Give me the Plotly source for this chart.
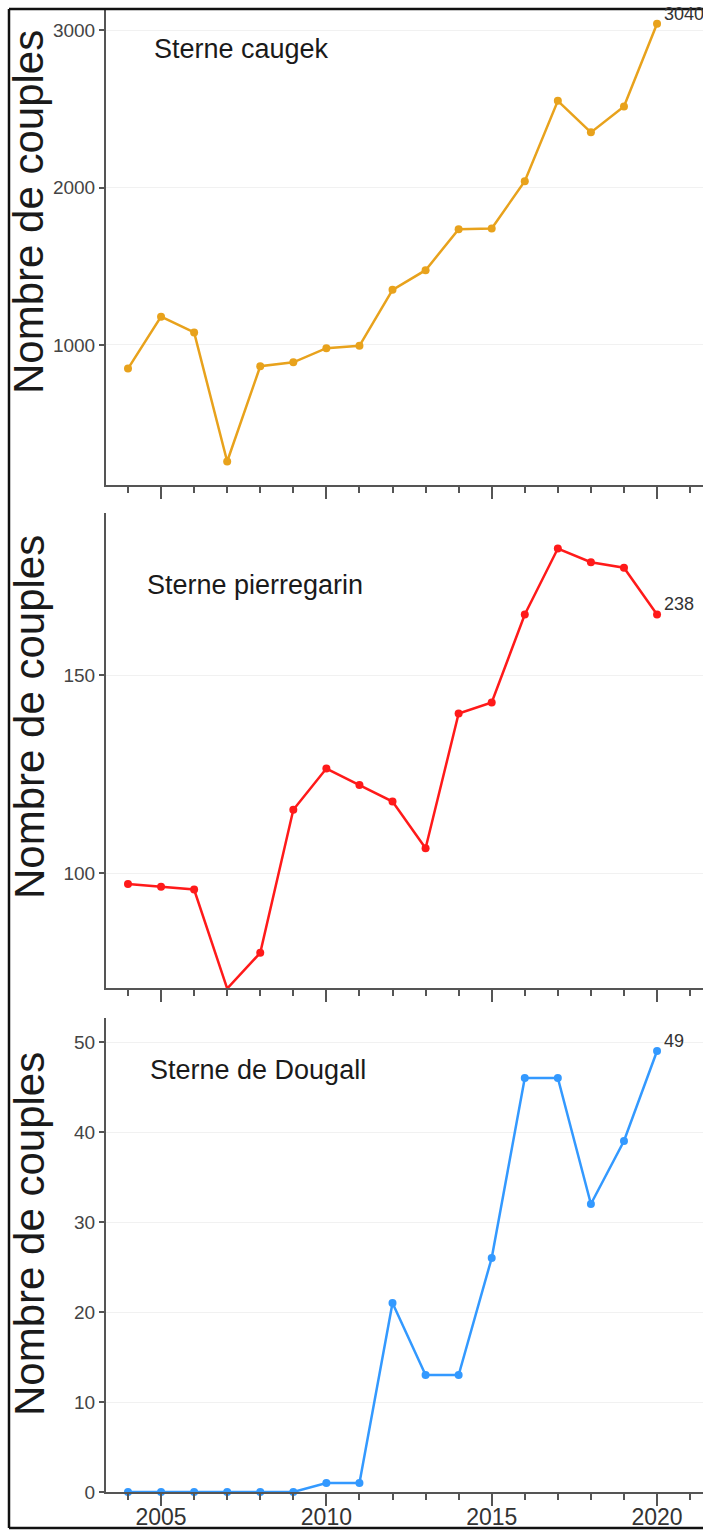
import plotly.graph_objects as go

# Breeding pairs counted per year for three tern species
YEARS = [2004, 2005, 2006, 2007, 2008, 2009, 2010, 2011, 2012,
         2013, 2014, 2015, 2016, 2017, 2018, 2019, 2020]
CAUGEK = [850, 1180, 1080, 260, 865, 890, 980, 995, 1350,
          1475, 1735, 1740, 2040, 2550, 2350, 2515, 3040]
PIERREGARIN = [140, 139, 138, 102, 115, 167, 182, 176, 170,
               153, 202, 206, 238, 262, 257, 255, 238]
DOUGALL = [0, 0, 0, 0, 0, 0, 1, 1, 21,
           13, 13, 26, 46, 46, 32, 39, 49]

SPECIES = ["Sterne caugek", "Sterne pierregarin", "Sterne de Dougall"]
Y_TITLE = "Nombre de couples"
X_TICK_YEARS = [2005, 2010, 2015, 2020]
PIERRE_TICK_TEXT = ["100", "150"]

W, H = 703, 1530
L_MARGIN = 106
FONT = "Liberation Sans, Arial, sans-serif"
COLORS = ["#E8A21C", "#FF1A1A", "#3399FF"]
AXIS_COLOR = "#555555"
GRID_COLOR = "#F1F1F1"


def py(px):
    """Pixel row -> paper y fraction."""
    return 1 - px / H


def pxx(px):
    """Pixel column -> paper x fraction."""
    return (px - L_MARGIN) / (W - L_MARGIN)


# panel vertical extents (top, bottom) in pixels
PANELS = [(10, 485), (513, 988), (1018, 1492)]
X_RANGE = [2003.335, 2021.39]

fig = go.Figure()
series = [CAUGEK, PIERREGARIN, DOUGALL]
for i, vals in enumerate(series):
    n = "" if i == 0 else str(i + 1)
    fig.add_trace(go.Scatter(
        x=YEARS, y=vals, mode="lines+markers",
        line=dict(color=COLORS[i], width=2.5),
        marker=dict(color=COLORS[i], size=8),
        xaxis="x" + n, yaxis="y" + n, cliponaxis=False,
        showlegend=False,
    ))

layout = dict(
    width=W, height=H,
    margin=dict(l=L_MARGIN, r=0, t=0, b=0, pad=0, autoexpand=False),
    paper_bgcolor="white", plot_bgcolor="white",
    font=dict(family=FONT, color="#333333"),
    showlegend=False,
)

y_specs = [
    dict(range=[111, 3127], tickvals=[1000, 2000, 3000]),
    dict(range=[102.2, 274.9], tickvals=[144, 216], ticktext=PIERRE_TICK_TEXT),
    dict(range=[0, 52.67], tickvals=[0, 10, 20, 30, 40, 50]),
]

for i, (top, bot) in enumerate(PANELS):
    n = "" if i == 0 else str(i + 1)
    layout["xaxis" + n] = dict(
        range=X_RANGE, anchor="y" + n, domain=[0, 1],
        showline=True, linecolor=AXIS_COLOR, linewidth=2,
        showgrid=False, zeroline=False, automargin=False,
        tickmode="array", tickvals=X_TICK_YEARS,
        ticks="outside", ticklen=12, tickwidth=2, tickcolor=AXIS_COLOR,
        minor=dict(dtick=1, tick0=2004, ticks="outside", ticklen=6,
                   tickwidth=2, tickcolor=AXIS_COLOR),
        showticklabels=(i == 2), ticklabelstandoff=-9,
        tickfont=dict(size=23, color="#333333", family=FONT),
    )
    ys = dict(
        anchor="x" + n, domain=[py(bot), py(top)],
        showline=True, linecolor=AXIS_COLOR, linewidth=2,
        showgrid=True, gridcolor=GRID_COLOR, gridwidth=1, zeroline=False,
        automargin=False,
        ticks="outside", ticklen=5, tickwidth=2, tickcolor=AXIS_COLOR,
        tickfont=dict(size=19, color="#444444", family=FONT),
        tickmode="array",
    )
    ys.update(y_specs[i])
    layout["yaxis" + n] = ys

annotations = []
title_rows = [49, 585, 1070]
title_cols = [152, 145, 148]
ytitle_rows = [212, 717, 1234]
for i in range(3):
    annotations.append(dict(
        text=SPECIES[i], xref="paper", yref="paper",
        x=pxx(title_cols[i]), y=py(title_rows[i]),
        xanchor="left", yanchor="middle", showarrow=False,
        font=dict(size=27, color="#1a1a1a", family=FONT),
    ))
    annotations.append(dict(
        text=Y_TITLE, xref="paper", yref="paper",
        x=pxx(29), y=py(ytitle_rows[i]), textangle=-90,
        xanchor="center", yanchor="middle", showarrow=False,
        font=dict(size=42, color="#1a1a1a", family=FONT),
    ))
    n = "" if i == 0 else str(i + 1)
    annotations.append(dict(
        text=str(series[i][-1]), x=YEARS[-1], y=series[i][-1],
        xref="x" + n, yref="y" + n, xanchor="left", yanchor="middle",
        xshift=5, yshift=10, showarrow=False,
        font=dict(size=18, color="#333333", family=FONT),
    ))
layout["annotations"] = annotations

# outer frame
frame = dict(color="#111111", width=2.5)
layout["shapes"] = [
    dict(type="line", xref="paper", yref="paper",
         x0=pxx(9), x1=pxx(9), y0=py(9), y1=py(1528), line=frame),
    dict(type="line", xref="paper", yref="paper",
         x0=pxx(9), x1=1.02, y0=py(9), y1=py(9), line=frame),
    dict(type="line", xref="paper", yref="paper",
         x0=pxx(9), x1=1.02, y0=py(1528), y1=py(1528), line=frame),
]

fig.update_layout(**layout)
fig.write_html("out.html")
